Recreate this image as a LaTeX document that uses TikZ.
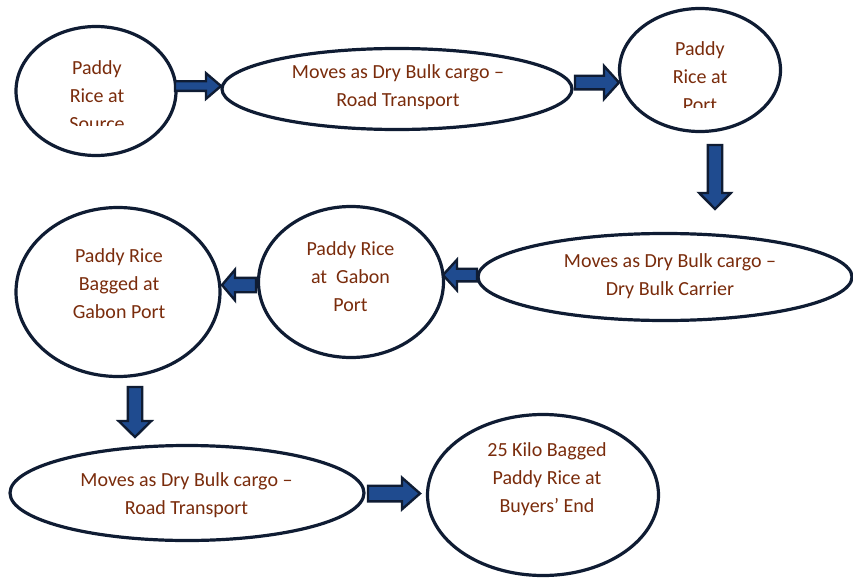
\documentclass[tikz,border=0pt]{standalone}
\usepackage{fontspec}
\setmainfont{Carlito}
\usetikzlibrary{shapes.geometric}
\definecolor{inkline}{HTML}{0F1C33}
\definecolor{textbrown}{HTML}{7A2C0C}
\definecolor{arrowblue}{HTML}{1F4B8F}

% Block arrow: #1,#2 tail centre, #3 direction angle, #4 length,
% #5 shaft half-width, #6 head half-width, #7 head length
\newcommand\flowarrow[7]{%
  \draw[arrowbody, shift={(#1,#2)}, rotate=#3]
    (0,-#5) -- ({#4-#7},-#5) -- ({#4-#7},-#6) -- (#4,0) --
    ({#4-#7},#6) -- ({#4-#7},#5) -- (0,#5) -- cycle;}

\begin{document}
\begin{tikzpicture}[x=0.75pt, y=-0.75pt,
  stage/.style 2 args={ellipse, draw=inkline, line width=2.4pt, fill=white,
    inner sep=0pt, minimum width=0.75*#1pt, minimum height=0.75*#2pt},
  label/.style={text=textbrown, align=center, inner sep=0pt,
    font=\fontsize{15pt}{21pt}\selectfont},
  arrowbody/.style={draw=inkline, fill=arrowblue, line width=1.8pt, line join=miter}]
\useasboundingbox (0,0) rectangle (853,578);

% stages
\node[stage={160}{129}] (e1) at (96,91) {};
\node[stage={350}{81}] (e2) at (397,89) {};
\node[stage={161}{123}] (e3) at (700,70) {};
\node[stage={374}{87}] (e4) at (665,277) {};
\node[stage={185}{151}] (e5) at (351,282) {};
\node[stage={204}{169}] (e6) at (118,292) {};
\node[stage={354}{95}] (e7) at (187,493) {};
\node[stage={231}{161}] (e8) at (543,495) {};

% stage texts (the first and third are cut off at the bottom of their text boxes)
\begin{scope}
  \clip (20,40) rectangle (175,125);
  \node[label] (t1) at (97,96) {Paddy\\Rice at\\Source};
\end{scope}
\begin{scope}
  \clip (630,20) rectangle (770,107);
  \node[label] (t3) at (700,77) {Paddy\\Rice at\\Port};
\end{scope}
\node[label] (t2) at (398,87) {Moves as Dry Bulk cargo --\\Road Transport};
\node[label] (t4) at (670,276.5) {Moves as Dry Bulk cargo --\\Dry Bulk Carrier};
\node[label] (t5) at (350.5,277) {Paddy Rice\\at\ \ Gabon\\Port};
\node[label] (t6) at (119,284) {Paddy Rice\\Bagged at\\Gabon Port};
\node[label] (t7) at (186.5,495) {Moves as Dry Bulk cargo --\\Road Transport};
\node[label] (t8) at (547,479) {25 Kilo Bagged\\Paddy Rice at\\Buyers’ End};

% block arrows between the stages
\flowarrow{175}{86}{0}{46}{4.8}{12.8}{15}
\flowarrow{575}{82.5}{0}{44}{6.8}{16.5}{15}
\flowarrow{715}{145}{-90}{64}{7.2}{15.8}{16}
\flowarrow{477}{275}{180}{34}{6.3}{15.3}{14}
\flowarrow{256}{285}{180}{34}{7.2}{15.3}{13}
\flowarrow{135}{387}{-90}{50}{7.2}{16.3}{16}
\flowarrow{368}{493.5}{0}{52}{7.8}{15.8}{18}
\end{tikzpicture}
\end{document}
